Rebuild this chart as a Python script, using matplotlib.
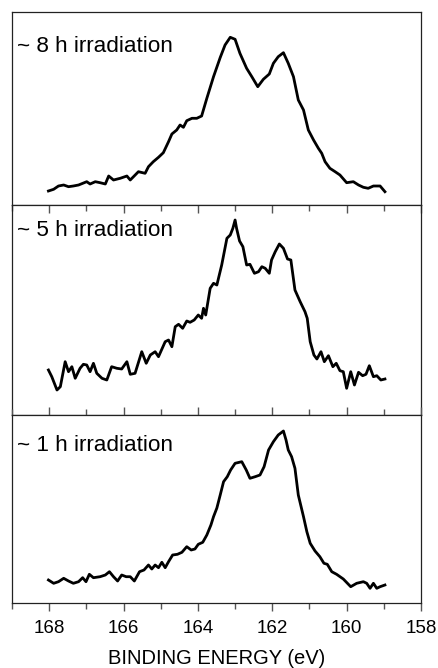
import matplotlib
matplotlib.use("Agg")
import matplotlib.pyplot as plt
from matplotlib.ticker import MultipleLocator

plt.rcParams['font.family'] = ['Liberation Sans', 'DejaVu Sans']

# ~8 h irradiation
e8 = [168.02, 167.88, 167.75, 167.61, 167.48, 167.35, 167.21, 166.99, 166.90, 166.76,
      166.63, 166.49, 166.40, 166.27, 166.09, 165.91, 165.82, 165.60, 165.42, 165.33,
      165.20, 165.06, 164.93, 164.79, 164.70, 164.57, 164.48, 164.39, 164.30, 164.16,
      164.03, 163.90, 163.76, 163.58, 163.40, 163.27, 163.13, 163.00, 162.87, 162.69,
      162.55, 162.39, 162.24, 162.08, 161.97, 161.84, 161.70, 161.57, 161.43, 161.30,
      161.16, 161.03, 160.89, 160.76, 160.67, 160.58, 160.45, 160.31, 160.18, 160.00,
      159.82, 159.68, 159.55, 159.42, 159.28, 159.10, 158.97]
i8 = [14, 15.7, 19, 20, 18.3, 19, 20, 23.3, 21, 23.3,
      22.3, 21, 29, 25, 26.7, 29, 25, 33.3, 31.7, 38.3,
      43.3, 47.7, 52.3, 63.3, 71, 75, 80, 77.7, 84.3, 86.7,
      86.7, 89, 106.7, 128.3, 147.5, 160, 167.7, 165.7, 151.7, 136.7,
      128.3, 118.3, 125.7, 131, 141.7, 148.3, 152.3, 141.7, 128.3, 105,
      95, 75, 65, 56.7, 51.7, 43.3, 36.7, 33.3, 30, 22.3,
      23.3, 20, 17.7, 16.7, 19, 19, 13.3]

# ~5 h irradiation
e5 = [168.02, 167.93, 167.79, 167.70, 167.57, 167.48, 167.39, 167.30, 167.17, 167.08,
      166.99, 166.90, 166.81, 166.72, 166.58, 166.45, 166.32, 166.18, 166.05, 165.91,
      165.82, 165.69, 165.51, 165.39, 165.28, 165.15, 165.06, 164.88, 164.79, 164.70,
      164.61, 164.52, 164.41, 164.30, 164.21, 164.10, 163.99, 163.90, 163.85, 163.79,
      163.67, 163.58, 163.49, 163.36, 163.22, 163.13, 163.06, 163.00, 162.96, 162.88,
      162.79, 162.69, 162.60, 162.48, 162.37, 162.28, 162.19, 162.08, 162.02, 161.92,
      161.81, 161.70, 161.59, 161.50, 161.39, 161.25, 161.12, 161.06, 160.98, 160.88,
      160.80, 160.69, 160.60, 160.49, 160.37, 160.28, 160.18, 160.09, 160.00, 159.89,
      159.79, 159.68, 159.57, 159.48, 159.39, 159.28, 159.19, 159.08, 158.97]
i5 = [45, 38.3, 25, 28.3, 53.3, 43.3, 48.3, 36.7, 46.7, 50.7,
      50, 43.3, 51.7, 41.7, 36.7, 35, 48.3, 46.7, 46, 53.3,
      40.7, 41.7, 63.3, 51.7, 60, 63.3, 58.3, 73.3, 75, 68.3,
      88.3, 90.7, 86.7, 94, 92.7, 95, 100, 96.7, 106.7, 100,
      126.7, 131.7, 130, 150, 176.7, 180, 186.7, 195, 186.7, 174,
      168.3, 150, 150.7, 141.7, 143.3, 148.3, 146.7, 141.7, 155, 163.3,
      171, 166.7, 156, 155, 125, 113.3, 103.3, 96.7, 73.3, 60,
      56, 63.3, 53.3, 59.3, 48.3, 51.7, 44.3, 43.3, 26.7, 43.3,
      30, 42.7, 39.3, 40.7, 49.3, 38.3, 39.3, 35, 36]

# ~1 h irradiation
e1 = [168.02, 167.88, 167.75, 167.61, 167.48, 167.35, 167.21, 167.10, 167.01, 166.92,
      166.81, 166.63, 166.49, 166.38, 166.27, 166.16, 166.05, 165.93, 165.82, 165.71,
      165.57, 165.45, 165.33, 165.24, 165.15, 165.06, 164.97, 164.88, 164.79, 164.68,
      164.55, 164.43, 164.30, 164.18, 164.08, 163.99, 163.87, 163.76, 163.65, 163.58,
      163.49, 163.40, 163.31, 163.21, 163.12, 163.00, 162.82, 162.70, 162.60, 162.46,
      162.33, 162.22, 162.10, 161.97, 161.84, 161.70, 161.63, 161.57, 161.48, 161.39,
      161.30, 161.16, 161.07, 160.98, 160.85, 160.72, 160.61, 160.52, 160.40, 160.27,
      160.09, 159.89, 159.73, 159.55, 159.46, 159.37, 159.28, 159.19, 159.10, 158.97]
i1 = [23, 19.7, 21.3, 24.7, 22, 19.7, 21.3, 25.3, 21.3, 28.7,
      25.3, 26.3, 28, 31.3, 26.3, 22, 28, 26.3, 26.3, 22,
      31.3, 33, 38, 34, 38, 35.3, 40.7, 35.3, 41.3, 48,
      48.7, 50.7, 56.3, 53, 54, 58.7, 60.7, 68, 78, 86.3,
      95, 108, 121.3, 126.3, 133, 139.7, 141.3, 133, 124.7, 126.3,
      128, 136.3, 153, 161.3, 168, 172, 163, 153, 146.3, 134.7,
      108, 86.3, 71.3, 59.7, 52, 46.3, 39.7, 38.7, 31.3, 28.7,
      24, 16.3, 19.7, 21.3, 19.7, 14.7, 19.7, 14.7, 16.3, 18]

labels = ["~ 8 h irradiation", "~ 5 h irradiation", "~ 1 h irradiation"]
xticks = [168, 166, 164, 162, 160, 158]
xlabel = "BINDING ENERGY (eV)"

W, H = 438, 668
fig = plt.figure(figsize=(W / 100, H / 100), dpi=100)

# panel extents in pixels (top, bottom)
panels = [(12, 205), (205, 415), (415, 603)]
label_y = [0.793, 0.852, 0.809]
left, right = 12, 421
series = [(e8, i8), (e5, i5), (e1, i1)]

for k, ((top, bot), (ex, iy), lab) in enumerate(zip(panels, series, labels)):
    ax = fig.add_axes([left / W, 1 - bot / H, (right - left) / W, (bot - top) / H])
    ax.plot(ex, iy, color='black', lw=2.0, solid_joinstyle='round')
    ax.set_xlim(169, 158)
    ax.set_ylim(0, bot - top)
    ax.set_yticks([])
    for s in ax.spines.values():
        s.set_linewidth(0.9)
        s.set_color('#222222')
    ax.xaxis.set_major_locator(MultipleLocator(2))
    ax.xaxis.set_minor_locator(MultipleLocator(1))
    ax.text(0.013, label_y[k], lab,
            transform=ax.transAxes, ha='left', va='baseline', fontsize=16.2)
    if k == 0:
        ax.tick_params(axis='x', which='both', bottom=False, top=False,
                       labelbottom=False)
    elif k == 1:
        ax.tick_params(axis='x', which='both', bottom=False, top=True,
                       labelbottom=False, direction='in', color='#555555')
        ax.tick_params(axis='x', which='major', length=6, width=1)
        ax.tick_params(axis='x', which='minor', length=4, width=1)
    else:
        ax.tick_params(axis='x', which='both', bottom=True, top=True,
                       direction='in', color='#555555')
        ax.tick_params(axis='x', which='major', length=6, width=1)
        ax.tick_params(axis='x', which='minor', length=4, width=1)
        ax.tick_params(axis='x', which='both', bottom=True, direction='out')
        ax.tick_params(axis='x', which='major', labelsize=13.5, pad=6)
        ax.set_xticks(xticks)
        ax.set_xticklabels([str(t) for t in xticks])
        ax.set_xlabel(xlabel, fontsize=14.5, labelpad=9)

fig.savefig("out.png", dpi=100)
